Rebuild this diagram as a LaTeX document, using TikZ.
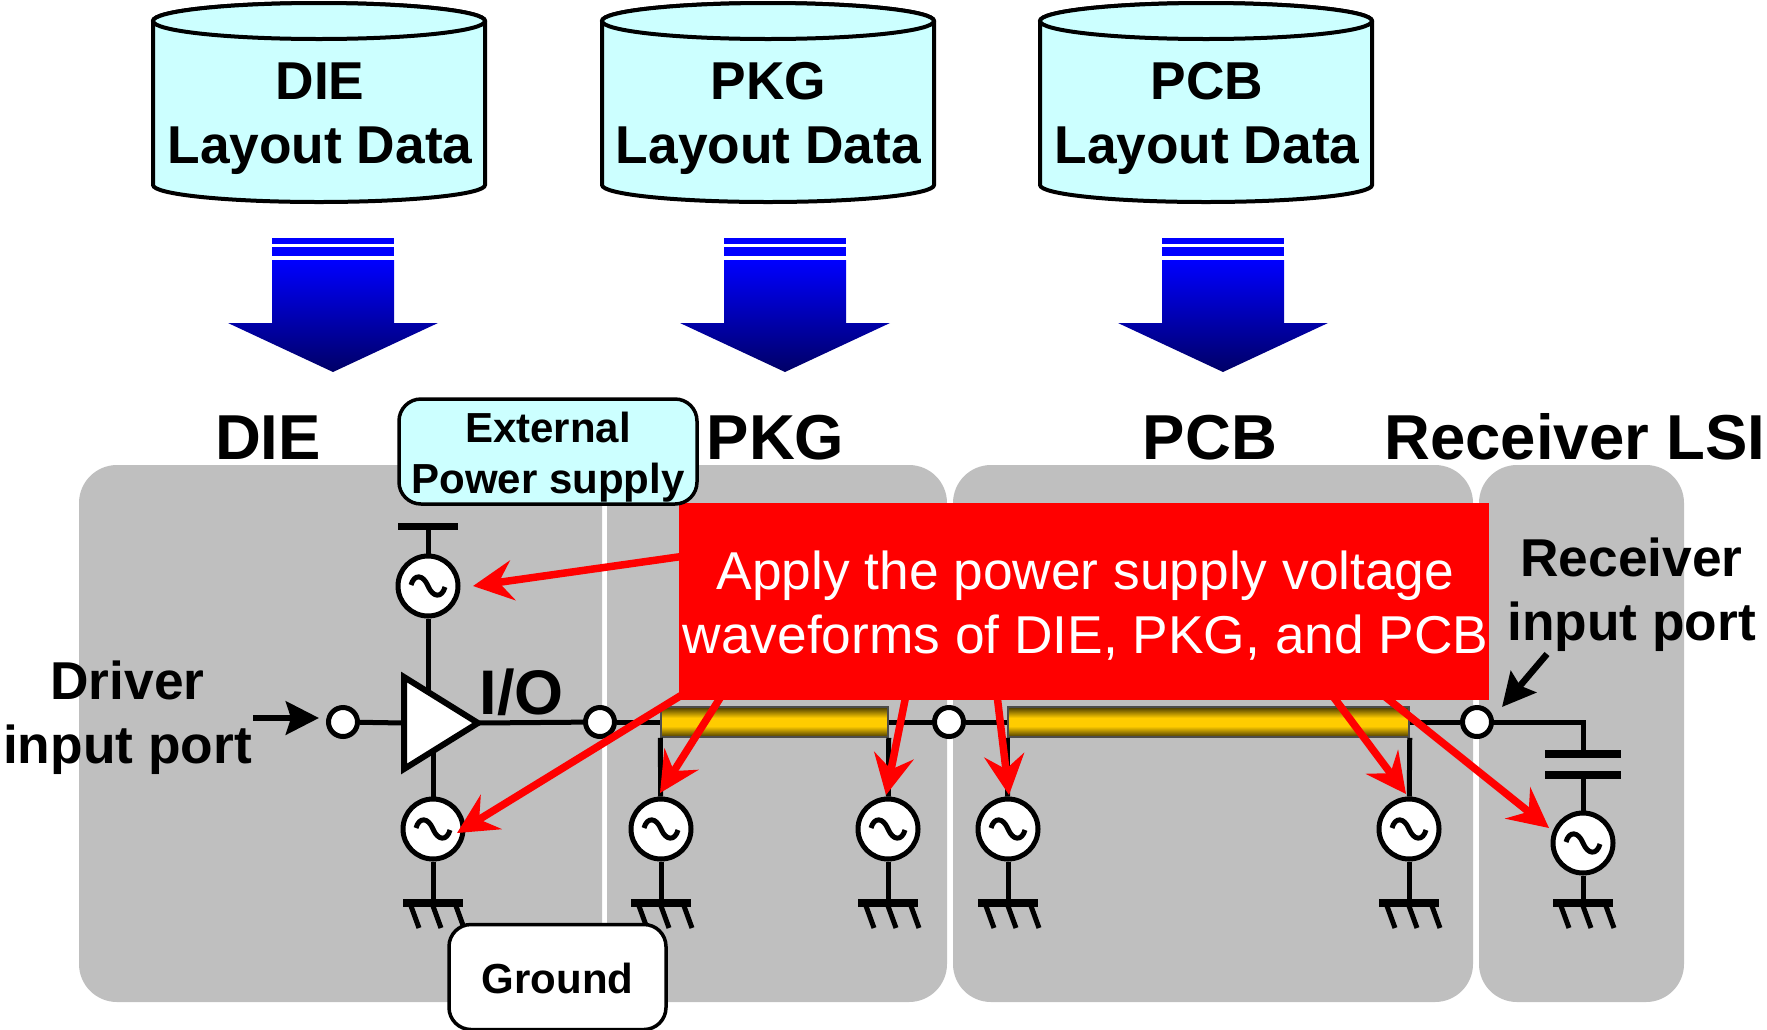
\documentclass[tikz,border=0pt]{standalone}
\usepackage{fontspec}
\setmainfont{Liberation Sans}
\usetikzlibrary{arrows.meta}
\definecolor{panelgrey}{HTML}{BFBFBF}
\definecolor{palecyan}{HTML}{CCFFFF}
\definecolor{gold}{HTML}{FFCC00}
\definecolor{navyend}{rgb}{0,0,0.4}
\pgfdeclareverticalshading{tlineshade}{100bp}{
  color(0bp)=(black!72!gold); color(25bp)=(black!72!gold); color(43bp)=(gold);
  color(57bp)=(gold); color(75bp)=(black!72!gold); color(100bp)=(black!72!gold)}
\tikzset{
  panel/.style={fill=panelgrey,rounded corners=38pt},
  cyl/.style={draw=black,line width=4pt,fill=palecyan},
  txtmain/.style={font=\fontsize{53.3}{64}\selectfont\bfseries,align=center,inner sep=0pt},
  heading/.style={font=\fontsize{63.5}{70}\selectfont\bfseries,anchor=base,inner sep=0pt},
  smallbox/.style={draw=black,line width=3.5pt,rounded corners=22pt,inner sep=0pt},
  smalltxt/.style={font=\fontsize{42}{51}\selectfont\bfseries,align=center,inner sep=0pt},
  wire/.style={draw=black,line width=5pt},
  port/.style={circle,draw=black,line width=5pt,fill=white,minimum size=29pt,inner sep=0pt},
  source/.style={circle,draw=black,line width=5pt,fill=white,minimum size=60pt,inner sep=0pt,
    path picture={\draw[line width=5pt,line cap=butt,shift={(path picture bounding box.center)}]
      (-17,-1) .. controls (-14,-12) and (-5,-12) .. (0,0) .. controls (5,12) and (14,12) .. (17,1);}},
  tline/.style={draw=black!70,line width=1.5pt,shading=tlineshade,minimum height=30pt,inner sep=0pt},
  redarrow/.style={draw=red,line width=7.5pt,-{Stealth[length=40pt,width=40pt,inset=14pt]}},
  blackarrow/.style={draw=black,line width=6.5pt,-{Stealth[length=33pt,width=33pt,inset=5pt]}},
  ground/.pic={
    \draw[black,line width=8pt] (-30,0) -- (30,0);
    \draw[black,line width=5pt] (-22,3) -- (-14,25) (0,3) -- (8,25) (23,3) -- (31,25);
  },
  blueshaft/.style={top color=blue,bottom color=navyend},
}
\newcommand{\bluearrow}[1]{%
  \fill[blue] ({#1-61},238) rectangle ({#1+61},244);
  \fill[blue] ({#1-61},247) rectangle ({#1+61},256);
  \shade[blueshaft] ({#1-61},260) -- ({#1+61},260) -- ({#1+61},323) -- ({#1+105},323) -- (#1,372) -- ({#1-105},323) -- ({#1-61},323) -- cycle;
}
\newcommand{\cylinder}[1]{%
  \draw[cyl] ({#1-166},21) -- ({#1-166},185) arc[start angle=180,end angle=360,x radius=166pt,y radius=17pt] -- ({#1+166},21) arc[start angle=0,end angle=180,x radius=166pt,y radius=18pt] -- cycle;
  \draw[cyl] (#1,21) ellipse[x radius=166pt,y radius=18pt];
}
\begin{document}
\begin{tikzpicture}[x=1pt,y=-1pt]
\useasboundingbox (0,0) rectangle (1767,1029);

% data cylinders
\cylinder{319}
\cylinder{768}
\cylinder{1206}
\node[txtmain] (dbdie) at (320,118.5) {DIE\\Layout Data};
\node[txtmain] (dbpkg) at (768.5,118.5) {PKG\\Layout Data};
\node[txtmain] (dbpcb) at (1207,118.5) {PCB\\Layout Data};

% block arrows
\bluearrow{333}
\bluearrow{785}
\bluearrow{1223}

% panels
\fill[panel] (79,465) rectangle (602,1002);
\fill[panel] (607,465) rectangle (947,1002);
\fill[panel] (953,465) rectangle (1473,1002);
\fill[panel] (1479,465) rectangle (1684,1002);

% headings
\node[heading] (hdie) at (268,459) {DIE};
\node[heading] (hpkg) at (775.5,459) {PKG};
\node[heading] (hpcb) at (1210,459) {PCB};
\node[heading] (hrec) at (1575,459) {Receiver LSI};

% circuit nodes
\node[port] (pdrv) at (343,722) {};
\node[port] (pio) at (600,722) {};
\node[port] (pmid) at (949,722) {};
\node[port] (prec) at (1477,722) {};
\node[tline,minimum width=227pt] (tl1) at (774.5,722) {};
\node[tline,minimum width=401pt] (tl2) at (1208.5,722) {};
\node[source] (supply) at (428,586) {};
\node[source] (s1) at (433,829) {};
\node[source] (s2) at (661,829) {};
\node[source] (s3) at (888,829) {};
\node[source] (s4) at (1008,829) {};
\node[source] (s5) at (1409,829) {};
\node[source] (s6) at (1583,843) {};
\coordinate (vdd) at (428,526);
\coordinate (triL) at (404,723);
\coordinate (triT) at (404,677);
\coordinate (triB) at (404,769);
\coordinate (triO) at (478,723);
\coordinate (triup) at (428,695);
\coordinate (tridn) at (433,750);
\coordinate (capcorner) at (1583,722);
\coordinate (captop) at (1583,754);
\coordinate (capbot) at (1583,775);
\coordinate (g1) at (433,903);
\coordinate (g2) at (661,903);
\coordinate (g3) at (888,903);
\coordinate (g4) at (1008,903);
\coordinate (g5) at (1409,903);
\coordinate (g6) at (1583,903);

% wires
\draw[wire] (pdrv) -- (triL);
\draw[wire] (triO) -- (pio);
\draw[wire] (pio) -- (tl1.west);
\draw[wire] (tl1.east) -- (pmid);
\draw[wire] (pmid) -- (tl2.west);
\draw[wire] (tl2.east) -- (prec);
\draw[wire] (prec) -- (capcorner) -- (captop);
\draw[wire] (capbot) -- (s6);
\draw[wire] (vdd) -- (supply);
\draw[wire] (supply) -- (triup);
\draw[wire] (tridn) -- (s1);
\draw[wire] (tl1.south west) -- (s2);
\draw[wire] (tl1.south east) -- (s3);
\draw[wire] (tl2.south west) -- (s4);
\draw[wire] (tl2.south east) -- (s5);
\foreach \i in {1,...,6} {\draw[wire] (s\i) -- (g\i); \pic at (g\i) {ground};}
\draw[black,line width=7pt] (398,526) -- (458,526);
\draw[black,line width=8pt] (1545,754) -- (1621,754);
\draw[black,line width=8pt] (1545,775) -- (1621,775);
\draw[line width=6pt,fill=white,line join=miter] (triT) -- (triO) -- (triB) -- cycle;

% labels on the circuit
\node[font=\fontsize{63}{70}\selectfont\bfseries,anchor=base,inner sep=0pt] (lio) at (521.5,714) {I/O};
\node[txtmain] (ldrv) at (127.5,717.5) {Driver\\input port};
\node[txtmain] (lrec) at (1631.5,595) {Receiver\\input port};

% black arrows
\coordinate (adrvs) at (253,718);
\coordinate (adrve) at (319,718);
\coordinate (arecs) at (1547,654);
\coordinate (arece) at (1502,707);
\draw[blackarrow] (adrvs) -- (adrve);
\draw[blackarrow] (arecs) -- (arece);

% red arrows
\coordinate (r0s) at (685,556);
\coordinate (r0e) at (473,586);
\coordinate (r1s) at (685,693);
\coordinate (r1e) at (457,833);
\coordinate (r2s) at (722,695);
\coordinate (r2e) at (660,793);
\coordinate (r3s) at (906,695);
\coordinate (r3e) at (886,795);
\coordinate (r4s) at (997,695);
\coordinate (r4e) at (1009,795);
\coordinate (r5s) at (1332,695);
\coordinate (r5e) at (1406,794);
\coordinate (r6s) at (1383,695);
\coordinate (r6e) at (1549,828);
\foreach \i in {0,...,6} {\draw[redarrow] (r\i s) -- (r\i e);}

% red note
\node[fill=red,minimum width=810pt,minimum height=197pt,inner sep=0pt] (note) at (1084,601) {};
\node[font=\fontsize{53.3}{64}\selectfont,text=white,align=center,inner sep=0pt] (notetxt) at (1085.5,606) {Apply the power supply voltage\\waveforms of DIE, PKG, and PCB};

% callouts
\node[smallbox,fill=palecyan,minimum width=298pt,minimum height=105pt] (ext) at (548,451.5) {};
\node[smalltxt] (exttxt) at (548,457) {External\\Power supply};
\node[smallbox,fill=white,minimum width=217pt,minimum height=105pt] (gnd) at (557.5,977) {};
\node[smalltxt] (gndtxt) at (557.5,978) {Ground};
\end{tikzpicture}
\end{document}
